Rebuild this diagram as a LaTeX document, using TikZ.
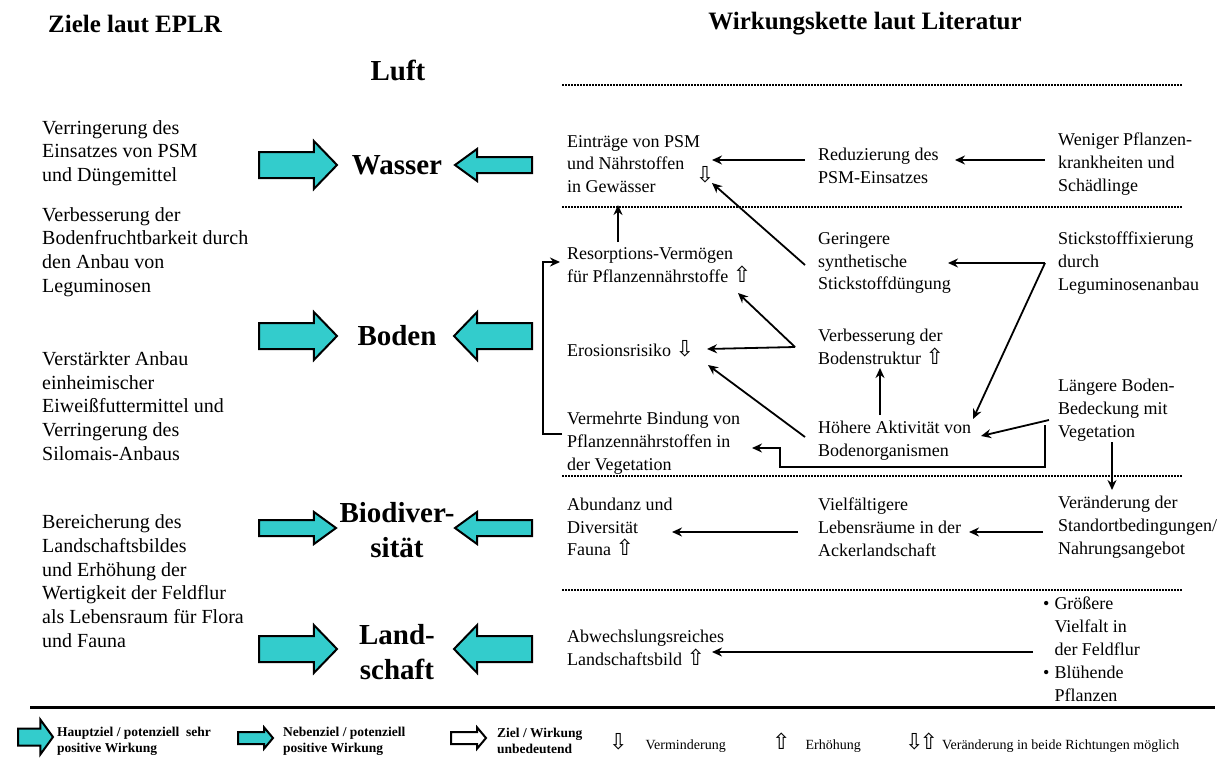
\documentclass[tikz,border=0pt]{standalone}
\usepackage{fontspec}
\setmainfont{Liberation Serif}
\newfontfamily\pfeilfont{DejaVu Sans}
\usetikzlibrary{shapes.arrows,arrows.meta}

\definecolor{tuerkis}{RGB}{51,204,204}
\newcommand{\pfeilab}{{\pfeilfont\fontsize{22}{22}\selectfont ⇩}}
\newcommand{\pfeilauf}{{\pfeilfont\fontsize{22}{22}\selectfont ⇧}}

\begin{document}
\begin{tikzpicture}[x=1pt, y=-1pt,
    title/.style={inner sep=0pt, font=\fontsize{25}{30}\selectfont\bfseries},
    medium/.style={align=center, inner sep=0pt,
        font=\fontsize{29}{35}\selectfont\bfseries},
    goal/.style={anchor=west, align=left, inner sep=0pt,
        font=\fontsize{20}{23.7}\selectfont},
    effect/.style={anchor=west, align=left, inner sep=0pt,
        font=\fontsize{18}{22.8}\selectfont},
    legend/.style={anchor=west, align=left, inner sep=0pt,
        font=\fontsize{13.5}{16}\selectfont\bfseries},
    legendthin/.style={anchor=west, inner sep=0pt,
        font=\fontsize{14}{16}\selectfont},
    fatarrow/.style={single arrow, anchor=tail, draw=black, line width=2pt,
        fill=tuerkis, inner xsep=0pt, single arrow head indent=0pt},
    bigarrow/.style={fatarrow, minimum height=78pt, inner ysep=12pt,
        single arrow head extend=11pt, single arrow tip angle=92},
    smallarrow/.style={fatarrow, minimum height=77pt, inner ysep=7pt,
        single arrow head extend=8pt, single arrow tip angle=72},
    legbig/.style={fatarrow, minimum height=35pt, inner ysep=7.5pt,
        single arrow head extend=9pt, single arrow tip angle=108},
    legsmall/.style={fatarrow, minimum height=35pt, inner ysep=5pt,
        single arrow head extend=4.5pt, single arrow tip angle=100},
    link/.style={line width=1.8pt, -{Stealth[length=10pt, width=9pt]}},
    sep/.style={line width=1.2pt, dash pattern=on 1.5pt off 1.5pt}
]
    \useasboundingbox (0,0) rectangle (1228,758);

    % headings
    \node[title] (ziele) at (135,24) {Ziele laut EPLR};
    \node[title] (kette) at (865,24) {Wirkungskette laut Literatur};

    % media
    \node[medium] (luft) at (398,70) {Luft};
    \node[medium] (wasser) at (397,165) {Wasser};
    \node[medium] (boden) at (397,336) {Boden};
    \node[medium] (biodiv) at (397,530) {Biodiver-\\sität};
    \node[medium] (landsch) at (397,652) {Land-\\schaft};

    % goals
    \node[goal] (zwasser) at (42,153) {Verringerung des\\Einsatzes von PSM\\und Düngemittel};
    \node[goal] (zleg) at (42,252) {Verbesserung der\\Bodenfruchtbarkeit durch\\den Anbau von\\Leguminosen};
    \node[goal] (zeiweiss) at (42,406) {Verstärkter Anbau\\einheimischer\\Eiweißfuttermittel und\\Verringerung des\\Silomais-Anbaus};
    \node[goal] (zland) at (42,581) {Bereicherung des\\Landschaftsbildes\\und Erhöhung der\\Wertigkeit der Feldflur\\als Lebensraum für Flora\\und Fauna};

    % fat arrows
    \node[bigarrow] (pw1) at (258,165) {};
    \node[smallarrow, shape border rotate=180] (pw2) at (533,165) {};
    \node[bigarrow] (pb1) at (258,336) {};
    \node[bigarrow, shape border rotate=180] (pb2) at (533,336) {};
    \node[smallarrow] (pd1) at (258,528) {};
    \node[smallarrow, shape border rotate=180] (pd2) at (533,528) {};
    \node[bigarrow] (pl1) at (258,649) {};
    \node[bigarrow, shape border rotate=180] (pl2) at (533,649) {};

    % separators
    \foreach \y in {85,207,476,590}
        \draw[sep] (562,\y) -- (1183,\y);

    % chain
    \node[effect] (eintraege) at (567,164) {Einträge von PSM\\und Nährstoffen\\in Gewässer};
    \node[inner sep=0pt] (eintrpfeil) at (705,175) {\pfeilab};
    \node[effect] (reduz) at (818,166) {Reduzierung des\\PSM-Einsatzes};
    \node[effect] (weniger) at (1058,164) {Weniger Pflanzen-\\krankheiten und\\Schädlinge};
    \node[effect] (resorp) at (567,265) {Resorptions-Vermögen\\für Pflanzennährstoffe \pfeilauf};
    \node[effect] (geringer) at (818,263) {Geringere\\synthetische\\Stickstoffdüngung};
    \node[effect] (stickfix) at (1058,263) {Stickstofffixierung\\durch\\Leguminosenanbau};
    \node[effect] (erosion) at (567,349) {Erosionsrisiko \pfeilab};
    \node[effect] (bodenstr) at (818,347) {Verbesserung der\\Bodenstruktur \pfeilauf};
    \node[effect] (laenger) at (1058,410) {Längere Boden-\\Bedeckung mit\\Vegetation};
    \node[effect] (bindung) at (567,443) {Vermehrte Bindung von\\Pflanzennährstoffen in\\der Vegetation};
    \node[effect] (aktiv) at (818,441) {Höhere Aktivität von\\Bodenorganismen};
    \node[effect] (abundanz) at (567,527) {Abundanz und\\Diversität\\Fauna \pfeilauf};
    \node[effect] (lebensr) at (818,527) {Vielfältigere\\Lebensräume in der\\Ackerlandschaft};
    \node[effect] (standort) at (1058,527) {Veränderung der\\Standortbedingungen/\\Nahrungsangebot};
    \node[effect] (landbild) at (567,648) {Abwechslungsreiches\\Landschaftsbild \pfeilauf};
    \node[effect] (feldflur) at (1043,651) {\begin{tabular}{@{}l@{\hspace{5pt}}l@{}}
        \textbullet & Größere\\ & Vielfalt in\\ & der Feldflur\\
        \textbullet & Blühende\\ & Pflanzen\end{tabular}};
    \coordinate (strukturast) at ([xshift=-23pt]bodenstr.west);

    \draw[link] ([xshift=-13pt,yshift=6pt]reduz.west) -- ([xshift=145pt,yshift=4pt]eintraege.west);
    \draw[link] ([xshift=-13pt,yshift=4pt]weniger.west) -- ([xshift=137pt,yshift=6pt]reduz.west);
    \draw[link] ([xshift=51pt,yshift=23pt]resorp.west) -- ([xshift=51pt,yshift=-41pt]eintraege.west);
    \draw[link] ([xshift=-13pt,yshift=-2pt]geringer.west) -- ([xshift=145pt,yshift=-19pt]eintraege.west);
    \draw[link] ([xshift=-13pt]stickfix.west) -- ([xshift=130pt]geringer.west);
    \draw[link] ([xshift=-13pt]stickfix.west) -- ([xshift=155pt,yshift=22pt]aktiv.west);
    \draw[link] (strukturast) -- ([xshift=171pt,yshift=-28pt]resorp.west);
    \draw[link] (strukturast) -- ([xshift=140pt]erosion.west);
    \draw[link] ([xshift=-13pt,yshift=4pt]aktiv.west) -- ([xshift=141pt,yshift=-16pt]erosion.west);
    \draw[link] ([xshift=62pt,yshift=26pt]aktiv.west) -- ([xshift=62pt,yshift=-21pt]bodenstr.west);
    \draw[link] ([xshift=-9pt,yshift=-10pt]laenger.west) -- ([xshift=163pt,yshift=5pt]aktiv.west);
    \draw[link] ([xshift=-13pt,yshift=-15pt]laenger.west) -- ++(0,42) -- ++(-265,0)
        -- ++(0,-19) -- ([xshift=185pt,yshift=-5pt]bindung.west);
    \draw[link] ([xshift=54pt,yshift=-32pt]laenger.west) -- ([xshift=54pt,yshift=37pt]standort.west);
    \draw[link] ([xshift=-5pt,yshift=9pt]bindung.west) -- ++(-19,0) -- ++(0,-172)
        -- ([xshift=-7pt,yshift=3pt]resorp.west);
    \draw[link] ([xshift=-20pt,yshift=-5pt]lebensr.west) -- ([xshift=105pt,yshift=-5pt]abundanz.west);
    \draw[link] ([xshift=-15pt,yshift=-5pt]standort.west) -- ([xshift=151pt,yshift=-5pt]lebensr.west);
    \draw[link] ([xshift=-10pt,yshift=-1pt]feldflur.west) -- ([xshift=145pt,yshift=-4pt]landbild.west);

    % legend
    \draw[line width=3pt] (30,707) -- (1215,707);
    \node[legbig] (lhaupt) at (17,737) {};
    \node[legend] (thaupt) at (57,741) {Hauptziel / potenziell\ \ sehr\\positive Wirkung};
    \node[legsmall] (lneben) at (237,738) {};
    \node[legend] (tneben) at (283,741) {Nebenziel / potenziell\\positive Wirkung};
    \node[legsmall, fill=white] (lnull) at (450,738) {};
    \node[legend] (tnull) at (497,741) {Ziel / Wirkung\\unbedeutend};
    \node[legendthin] (lab) at (609,743) {\pfeilab\hspace{18pt}Verminderung};
    \node[legendthin] (lauf) at (772,743) {\pfeilauf\hspace{15pt}Erhöhung};
    \node[legendthin] (lbeide) at (905,743) {\pfeilab\kern-4pt\pfeilauf\hspace{4pt}Veränderung in beide Richtungen möglich};
\end{tikzpicture}
\end{document}
